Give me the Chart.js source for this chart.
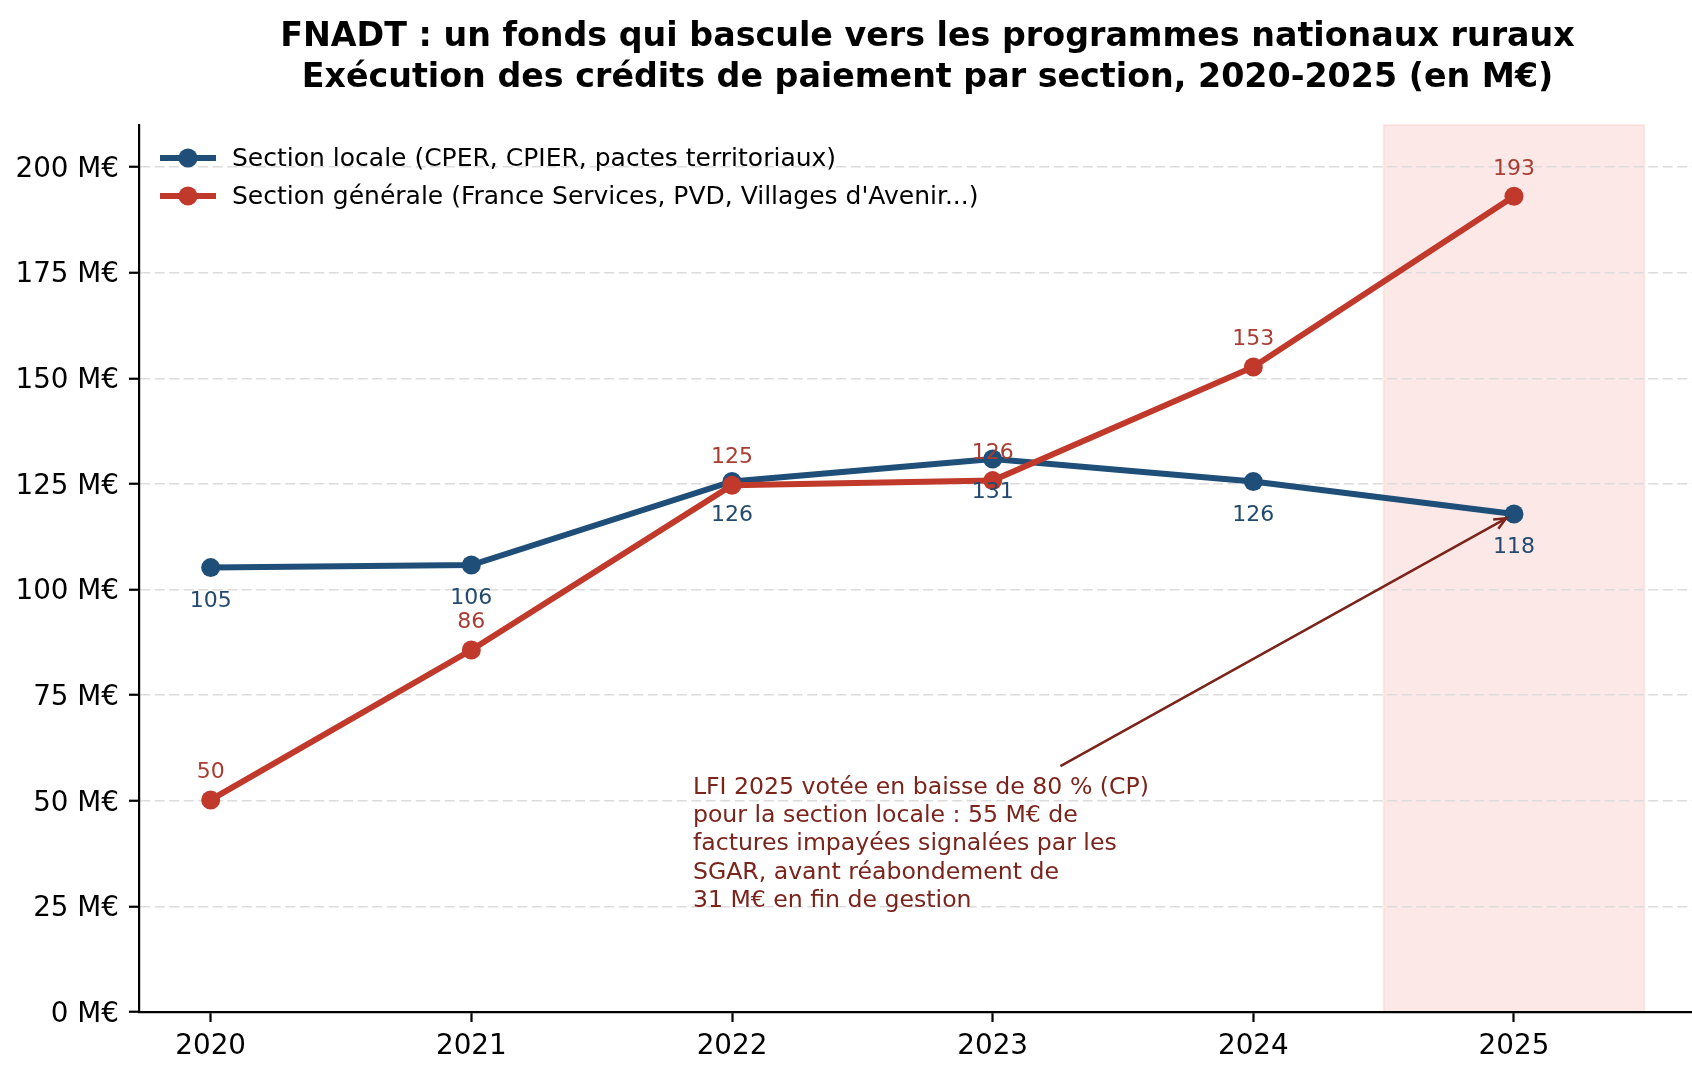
<!DOCTYPE html>
<html lang="fr">
<head>
<meta charset="utf-8">
<title>FNADT – crédits de paiement par section 2020-2025</title>
<script src="https://cdn.jsdelivr.net/npm/chart.js@4.4.1/dist/chart.umd.min.js"></script>
<style>
  html, body { margin: 0; padding: 0; background: #fff; overflow: hidden; }
  #wrap { width: 1716px; height: 1080px; }
</style>
</head>
<body>
<div id="wrap"><canvas id="chart" width="1716" height="1080"></canvas></div>
<script>
// Valeurs (M€)
const years = [2020, 2021, 2022, 2023, 2024, 2025];
const sectionLocale = [105.2, 105.8, 125.6, 130.9, 125.6, 117.9];
const sectionGenerale = [50.2, 85.7, 124.7, 125.8, 152.7, 193.1];
const yTicks = [0, 25, 50, 75, 100, 125, 150, 175, 200];
const xTicks = [2020, 2021, 2022, 2023, 2024, 2025];

const labelLocale = 'Section locale (CPER, CPIER, pactes territoriaux)';
const labelGenerale = "Section générale (France Services, PVD, Villages d'Avenir...)";
const titleLines = [
    'FNADT : un fonds qui bascule vers les programmes nationaux ruraux',
    'Exécution des crédits de paiement par section, 2020-2025 (en M€)'
];
const noteLines = [
    'LFI 2025 votée en baisse de 80 % (CP)',
    'pour la section locale : 55 M€ de',
    'factures impayées signalées par les',
    'SGAR, avant réabondement de',
    '31 M€ en fin de gestion'
];

// Année mise en avant (LFI 2025)
const bandFrom = 2024.5;
const bandTo = 2025.5;
// Emplacement de la note et départ de la flèche, en coordonnées de données
const noteX = 2021.85;
const noteY = 53.1;
const arrowFrom = { x: 2023.26, y: 58.2 };

const FONT = "'DejaVu Sans', 'Liberation Sans', sans-serif";
const BLUE = '#1f4e79';
const RED = '#c0392b';
const NOTE = '#7b241c';

// Bande rose derrière 2025
const bandPlugin = {
    id: 'band',
    beforeDraw(chart) {
        const { ctx, chartArea, scales } = chart;
        const x1 = scales.x.getPixelForValue(bandFrom);
        const x2 = scales.x.getPixelForValue(bandTo);
        ctx.save();
        ctx.fillStyle = 'rgba(231, 76, 60, 0.12)';
        ctx.fillRect(x1, chartArea.top, x2 - x1, chartArea.bottom - chartArea.top);
        ctx.strokeStyle = 'rgba(231, 76, 60, 0.10)';
        ctx.lineWidth = 2;
        ctx.strokeRect(x1, chartArea.top, x2 - x1, chartArea.bottom - chartArea.top);
        ctx.restore();
    }
};

// Étiquettes de valeurs : section locale sous le point, section générale au-dessus
const valueLabels = {
    id: 'valueLabels',
    afterDatasetsDraw(chart) {
        const ctx = chart.ctx;
        ctx.save();
        ctx.font = '22px ' + FONT;
        ctx.textAlign = 'center';
        ctx.textBaseline = 'middle';
        chart.data.datasets.forEach((ds, i) => {
            const meta = chart.getDatasetMeta(i);
            const shift = ds.labelBelow ? 33.5 : -27.5;
            ctx.fillStyle = ds.labelColor;
            meta.data.forEach((pt, j) => {
                ctx.fillText(String(Math.round(ds.data[j].y)), pt.x, pt.y + shift);
            });
        });
        ctx.restore();
    }
};

// Légende façon matplotlib : trait + marqueur, sans cadre
const lineLegend = {
    id: 'lineLegend',
    afterDraw(chart) {
        const { ctx, chartArea } = chart;
        const x0 = chartArea.left + 21;
        let y = chartArea.top + 33;
        ctx.save();
        ctx.font = '25px ' + FONT;
        ctx.textBaseline = 'middle';
        ctx.textAlign = 'left';
        chart.data.datasets.forEach(ds => {
            ctx.strokeStyle = ds.borderColor;
            ctx.lineWidth = 6;
            ctx.beginPath();
            ctx.moveTo(x0, y);
            ctx.lineTo(x0 + 56, y);
            ctx.stroke();
            ctx.fillStyle = ds.borderColor;
            ctx.beginPath();
            ctx.arc(x0 + 28, y, 9.5, 0, Math.PI * 2);
            ctx.fill();
            ctx.fillStyle = '#000';
            ctx.fillText(ds.label, x0 + 72, y + 2);
            y += 38;
        });
        ctx.restore();
    }
};

// Note explicative et flèche vers le point 2025 de la section locale
const notePlugin = {
    id: 'note',
    afterDraw(chart) {
        const { ctx, scales } = chart;
        const tx = scales.x.getPixelForValue(noteX);
        const ty = scales.y.getPixelForValue(noteY);
        ctx.save();
        ctx.font = '23.6px ' + FONT;
        ctx.fillStyle = NOTE;
        ctx.textAlign = 'left';
        ctx.textBaseline = 'middle';
        noteLines.forEach((line, i) => ctx.fillText(line, tx, ty + i * 28.3));

        const sx = scales.x.getPixelForValue(arrowFrom.x);
        const sy = scales.y.getPixelForValue(arrowFrom.y);
        const px = scales.x.getPixelForValue(years[5]);
        const py = scales.y.getPixelForValue(sectionLocale[5]);
        const ang = Math.atan2(py - sy, px - sx);
        const ex = px - Math.cos(ang) * 9;
        const ey = py - Math.sin(ang) * 9;
        ctx.strokeStyle = NOTE;
        ctx.lineWidth = 2.5;
        ctx.beginPath();
        ctx.moveTo(sx, sy);
        ctx.lineTo(ex, ey);
        ctx.stroke();
        const head = 13, spread = 0.42;
        ctx.beginPath();
        ctx.moveTo(ex - head * Math.cos(ang - spread), ey - head * Math.sin(ang - spread));
        ctx.lineTo(ex, ey);
        ctx.lineTo(ex - head * Math.cos(ang + spread), ey - head * Math.sin(ang + spread));
        ctx.stroke();
        ctx.restore();
    }
};

const toPoints = values => values.map((v, i) => ({ x: years[i], y: v }));

new Chart(document.getElementById('chart'), {
    type: 'line',
    data: {
        datasets: [
            {
                label: labelLocale,
                data: toPoints(sectionLocale),
                borderColor: BLUE,
                backgroundColor: BLUE,
                pointBackgroundColor: BLUE,
                borderWidth: 6,
                pointRadius: 9.5,
                pointBorderWidth: 0,
                tension: 0,
                order: 1,
                labelBelow: true,
                labelColor: '#234a6e'
            },
            {
                label: labelGenerale,
                data: toPoints(sectionGenerale),
                borderColor: RED,
                backgroundColor: RED,
                pointBackgroundColor: RED,
                borderWidth: 6,
                pointRadius: 9.5,
                pointBorderWidth: 0,
                tension: 0,
                order: 0,
                labelBelow: false,
                labelColor: '#a93d33'
            }
        ]
    },
    options: {
        responsive: false,
        animation: false,
        devicePixelRatio: 1,
        layout: { padding: 0, autoPadding: false },
        scales: {
            x: {
                type: 'linear',
                min: 2019.725,
                max: 2025.775,
                afterBuildTicks: scale => { scale.ticks = xTicks.map(v => ({ value: v })); },
                afterFit: scale => { scale.height = 68; },
                ticks: {
                    callback: v => String(v),
                    color: '#000',
                    font: { family: FONT, size: 27.8 },
                    padding: 8,
                    maxRotation: 0
                },
                grid: {
                    drawOnChartArea: false,
                    drawTicks: true,
                    tickLength: 10,
                    tickWidth: 2.2,
                    tickColor: '#000'
                },
                border: { display: true, color: '#000', width: 2.2 }
            },
            y: {
                min: 0,
                max: 210,
                afterBuildTicks: scale => { scale.ticks = yTicks.map(v => ({ value: v })); },
                afterFit: scale => { scale.width = 139; },
                ticks: {
                    callback: v => v + ' M€',
                    color: '#000',
                    font: { family: FONT, size: 27.8 },
                    padding: 10,
                    labelOffset: 2.5
                },
                grid: {
                    color: '#dcdcdc',
                    lineWidth: 1.5,
                    drawTicks: true,
                    tickLength: 10,
                    tickWidth: 2.2,
                    tickColor: '#000',
                    tickBorderDash: []
                },
                border: { display: true, color: '#000', width: 2.2, dash: [10, 4.5] }
            }
        },
        plugins: {
            legend: { display: false },
            tooltip: { enabled: false },
            title: {
                display: true,
                text: titleLines,
                fullSize: false,
                color: '#000',
                font: { family: FONT, size: 33.3, weight: 'bold', lineHeight: 1.23 },
                padding: { top: 17, bottom: 26 }
            }
        }
    },
    plugins: [bandPlugin, valueLabels, lineLegend, notePlugin]
});
</script>
</body>
</html>
